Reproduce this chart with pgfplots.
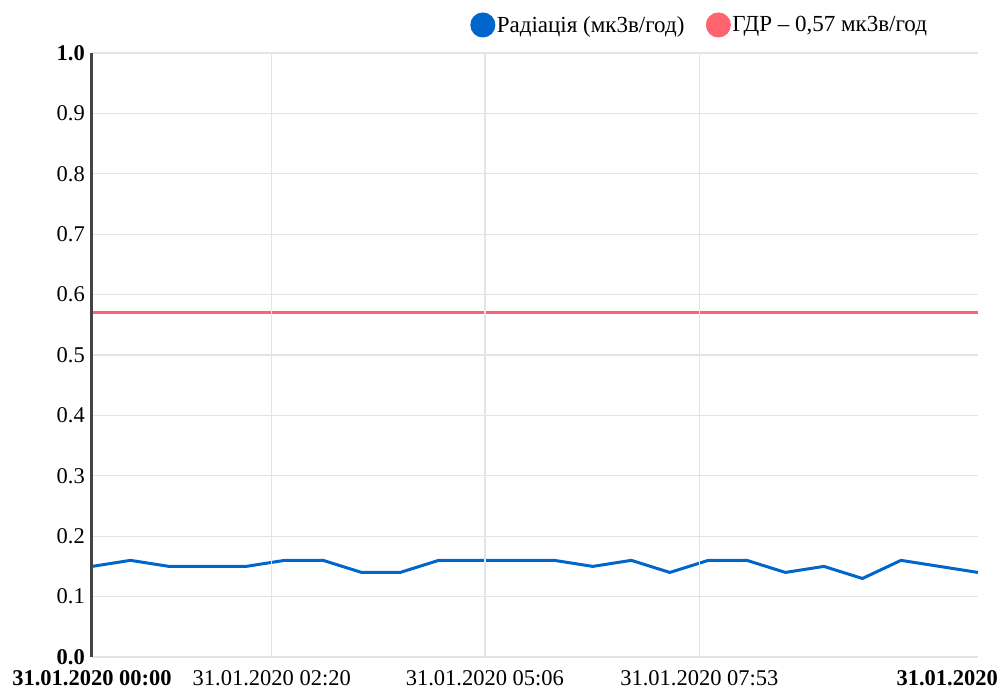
\documentclass[border=0pt]{standalone}
\usepackage{pgfplots}
\pgfplotsset{compat=1.18}
\usepackage{fontspec}
\setmainfont{Liberation Serif}
\definecolor{radblue}{RGB}{0,102,204}
\definecolor{gdrred}{RGB}{255,99,112}
\definecolor{gridgray}{RGB}{228,228,228}
\definecolor{axisgray}{RGB}{68,68,68}
\begin{document}
\begin{tikzpicture}
\useasboundingbox (-92bp,-32bp) rectangle (909bp,657bp);
\begin{axis}[
  at={(0bp,0bp)}, anchor=south west,
  scale only axis, width=886bp, height=604bp,
  xmin=0, xmax=690, ymin=0, ymax=1,
  clip mode=individual,
  axis x line*=bottom, axis y line*=left,
  x axis line style={draw=none},
  y axis line style={-, draw=axisgray, line width=3bp},
  major tick length=0pt,
  xtick={0,140,306,473},
  xticklabels={\textbf{31.01.2020 00:00},31.01.2020 02:20,31.01.2020 05:06,31.01.2020 07:53},
  ytick={0,0.1,0.2,0.3,0.4,0.5,0.6,0.7,0.8,0.9,1.0},
  yticklabels={\textbf{0.0},0.1,0.2,0.3,0.4,0.5,0.6,0.7,0.8,0.9,\textbf{1.0}},
  xmajorgrids, ymajorgrids,
  grid style={draw=gridgray, line width=1.3bp},
  tick label style={font=\fontsize{22.5bp}{25bp}\selectfont, text=black},
  xticklabel style={anchor=north, inner sep=0pt, yshift=-13bp},
  yticklabel style={anchor=east, inner sep=0pt, xshift=-7bp},
  axis on top,
  legend columns=2,
  legend style={draw=none, fill=none, at={(axis description cs:0.4268,1.0464)}, anchor=west,
    font=\fontsize{23bp}{25bp}\selectfont, inner sep=0pt,
    nodes={inner sep=1.5bp},
    /tikz/every even column/.append style={column sep=20bp}},
  legend cell align=left,
  legend image code/.code={\fill[#1] (0bp,0bp) circle (11bp);},
]
\addplot[radblue, line width=3bp, mark=none] coordinates {
(0,0.15) (30,0.16) (60,0.15) (90,0.15) (120,0.15) (150,0.16) (180,0.16) (210,0.14)
(240,0.14) (270,0.16) (300,0.16) (330,0.16) (360,0.16) (390,0.15) (420,0.16) (450,0.14)
(480,0.16) (510,0.16) (540,0.14) (570,0.15) (600,0.13) (630,0.16) (660,0.15) (690,0.14)
};
\addlegendentry{Радіація (мк3в/год)}
\addplot[gdrred, line width=3bp, mark=none] coordinates {(0,0.57) (690,0.57)};
\addlegendentry{ГДР – 0,57 мк3в/год}
\node[anchor=north east, inner sep=0pt, xshift=20bp, yshift=-13bp, font=\fontsize{22.5bp}{25bp}\selectfont\bfseries] at (axis cs:690,0) {31.01.2020};
\end{axis}
\end{tikzpicture}
\end{document}
